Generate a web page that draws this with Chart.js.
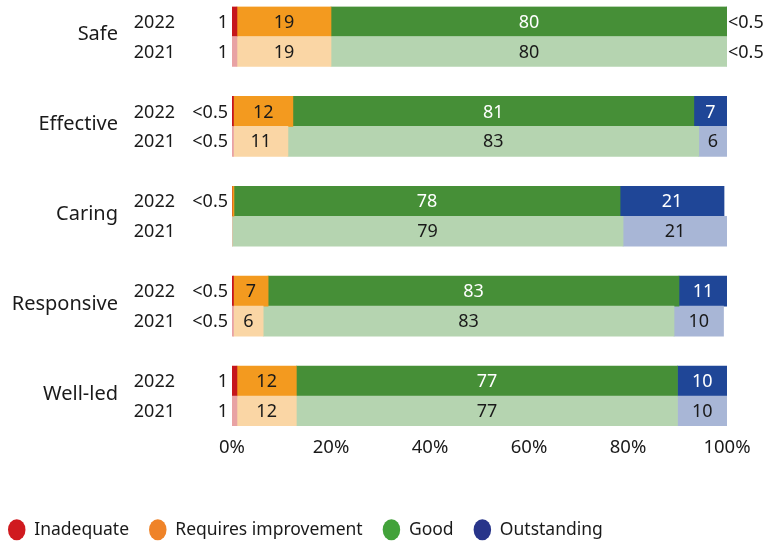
<!DOCTYPE html>
<html>
<head>
<meta charset="utf-8">
<script src="https://cdn.jsdelivr.net/npm/chart.js@4/dist/chart.umd.min.js"></script>
<style>
  html, body { margin: 0; padding: 0; background: #fff; }
  #wrap { width: 765px; height: 542px; }
</style>
</head>
<body>
<div id="wrap"><canvas id="c"></canvas></div>
<script>
// Ratings by key question, 2022 vs 2021 (percentages)
const domains = ['Safe', 'Effective', 'Caring', 'Responsive', 'Well-led'];
const years = ['2022', '2021'];
const ratings = ['Inadequate', 'Requires improvement', 'Good', 'Outstanding'];
const xTickValues = [0, 20, 40, 60, 80, 100];

const inadequate2022 = [1, 0.3, 0, 0.3, 1];
const inadequate2021 = [1, 0.3, 0, 0.3, 1];
const requiresImprovement2022 = [19, 12, 0.4, 7, 12];
const requiresImprovement2021 = [19, 11, 0, 6, 12];
const good2022 = [80, 81, 78, 83, 77];
const good2021 = [80, 83, 79, 83, 77];
const outstanding2022 = [0.3, 7, 21, 11, 10];
const outstanding2021 = [0.3, 6, 21, 10, 10];

const colors2022 = ['#c5161c', '#f39a1f', '#468f37', '#1f4697'];
const colors2021 = ['#e8a2a4', '#fad6a5', '#b5d4b0', '#a8b6d6'];
const legendColors = ['#d01a1f', '#ef8328', '#42a23a', '#28358a'];

const FONT = '"Noto Sans", "Open Sans", sans-serif';
const TEXT = '#1a1a1a';

// Each domain takes two rows (2022, 2021) followed by an empty spacer row
const rowYears = [];
domains.forEach((d, i) => {
  rowYears.push(years[0], years[1]);
  if (i < domains.length - 1) rowYears.push('');
});

function toRows(a2022, a2021) {
  const out = [];
  domains.forEach((d, i) => {
    out.push(a2022[i], a2021[i]);
    if (i < domains.length - 1) out.push(null);
  });
  return out;
}

const seriesRows = [
  toRows(inadequate2022, inadequate2021),
  toRows(requiresImprovement2022, requiresImprovement2021),
  toRows(good2022, good2021),
  toRows(outstanding2022, outstanding2021)
];

const datasets = ratings.map((name, r) => ({
  label: name,
  data: seriesRows[r],
  backgroundColor: rowYears.map(y => (y === '2022' ? colors2022[r] : colors2021[r])),
  borderWidth: 0,
  barPercentage: 1,
  categoryPercentage: 1,
  stack: 'all'
}));

function valueText(v) {
  if (v === null || v === undefined || v === 0) return '';
  return v < 0.5 ? '<0.5' : String(v);
}

// Value labels, year labels and domain names
const annotate = {
  id: 'annotate',
  afterDatasetsDraw(chart) {
    const ctx = chart.ctx;
    const area = chart.chartArea;
    const yScale = chart.scales.y;
    ctx.save();
    ctx.textBaseline = 'middle';

    chart.data.datasets.forEach((ds, di) => {
      const meta = chart.getDatasetMeta(di);
      meta.data.forEach((bar, i) => {
        const v = ds.data[i];
        const txt = valueText(v);
        if (!txt) return;
        const p = bar.getProps(['x', 'y', 'base'], true);
        const start = Math.min(p.x, p.base);
        const end = Math.max(p.x, p.base);
        const w = end - start;
        ctx.font = '18px ' + FONT;
        const dark = rowYears[i] === '2022' && di >= 2;
        if (w >= 14) {
          ctx.fillStyle = dark ? '#ffffff' : TEXT;
          ctx.textAlign = 'center';
          ctx.fillText(txt, (start + Math.min(end, area.right)) / 2, p.y + 1);
        } else if (start <= area.left + 3) {
          ctx.fillStyle = TEXT;
          ctx.textAlign = 'right';
          ctx.fillText(txt, area.left - 4, p.y + 1);
        } else if (start >= area.right - 3) {
          ctx.fillStyle = TEXT;
          ctx.textAlign = 'left';
          ctx.fillText(txt, area.right + 1, p.y + 1);
        }
      });
    });

    // year labels
    ctx.fillStyle = TEXT;
    ctx.textAlign = 'right';
    ctx.font = '18px ' + FONT;
    rowYears.forEach((y, i) => {
      if (!y) return;
      ctx.fillText(y, 175, yScale.getPixelForValue(i) + 1);
    });

    // domain names
    ctx.font = '20px ' + FONT;
    domains.forEach((d, k) => {
      const y0 = yScale.getPixelForValue(k * 3);
      const y1 = yScale.getPixelForValue(k * 3 + 1);
      ctx.fillText(d, 118, (y0 + y1) / 2 - 2);
    });
    ctx.restore();
  }
};

// Nudge the legend so it starts near the left edge and sits low
const legendShift = {
  id: 'legendShift',
  afterLayout(chart) {
    const lg = chart.legend;
    if (!lg) return;
    lg.left -= 12; lg.right -= 12;
    lg.top += 6.5; lg.bottom += 6.5;
  }
};

new Chart(document.getElementById('c'), {
  type: 'bar',
  data: { labels: rowYears, datasets },
  options: {
    indexAxis: 'y',
    responsive: true,
    maintainAspectRatio: false,
    animation: false,
    layout: { padding: { top: 6.5, right: 38, bottom: 0, left: 0 } },
    plugins: {
      tooltip: { enabled: false },
      legend: {
        position: 'bottom',
        align: 'start',
        labels: {
          usePointStyle: true,
          pointStyle: 'circle',
          pointStyleWidth: 17.5,
          boxHeight: 15,
          padding: 20,
          color: TEXT,
          font: { family: FONT, size: 17.5 },
          generateLabels: () => ratings.map((r, i) => ({
            text: r,
            fillStyle: legendColors[i],
            strokeStyle: legendColors[i],
            lineWidth: 0,
            pointStyle: 'circle',
            hidden: false,
            datasetIndex: i,
            fontColor: TEXT
          }))
        }
      }
    },
    scales: {
      x: {
        stacked: true,
        min: 0,
        max: 100,
        afterBuildTicks: s => { s.ticks = xTickValues.map(v => ({ value: v })); },
        ticks: {
          callback: v => v + '%',
          color: TEXT,
          font: { family: FONT, size: 18.5 },
          padding: 11,
          maxRotation: 0
        },
        grid: { display: false, drawTicks: false },
        border: { display: false },
        afterFit: s => { s.height = 68.5; }
      },
      y: {
        stacked: true,
        ticks: { display: false },
        grid: { display: false, drawTicks: false },
        border: { display: false },
        afterFit: s => { s.width = 232; }
      }
    }
  },
  plugins: [annotate, legendShift]
});
</script>
</body>
</html>
